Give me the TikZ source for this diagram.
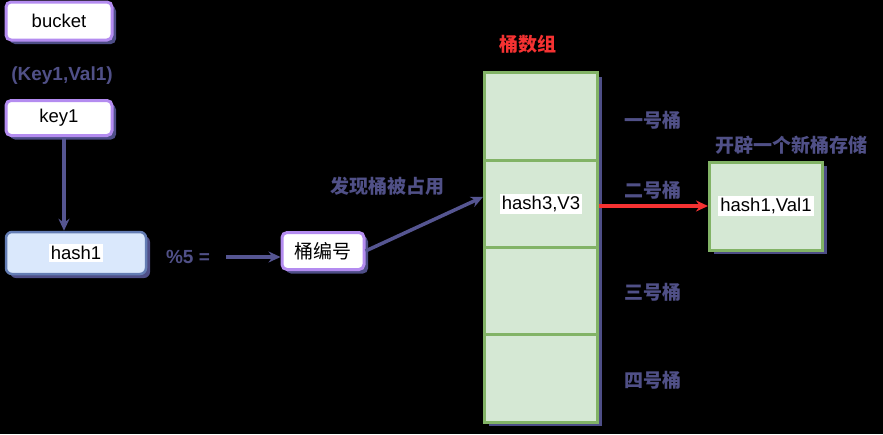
\documentclass[tikz,border=0pt]{standalone}
\usepackage{fontspec}
\setmainfont{Liberation Sans}
\newfontfamily\cjk{Noto Sans CJK SC}
\usetikzlibrary{shadows,arrows.meta}
\definecolor{shc}{RGB}{78,78,135}
\definecolor{labc}{RGB}{80,80,135}
\definecolor{linec}{RGB}{85,85,145}
\definecolor{purp}{RGB}{180,140,240}
\definecolor{bfill}{RGB}{218,232,252}
\definecolor{bdraw}{RGB}{100,125,180}
\definecolor{gfill}{RGB}{213,232,212}
\definecolor{gdraw}{RGB}{130,179,102}
\definecolor{redc}{RGB}{245,50,50}
\tikzset{
  shad/.style={drop shadow={shadow xshift=4pt,shadow yshift=-4pt,fill=shc,opacity=1}},
  pbox/.style={draw=purp,fill=white,line width=3pt,rounded corners=5pt,shad,font=\fontsize{18.5}{22}\selectfont},
  hbox/.style={draw=bdraw,fill=bfill,line width=2.5pt,rounded corners=6pt,shad},
  gbox/.style={draw=gdraw,fill=gfill,line width=3pt,shad},
  wtext/.style={fill=white,inner sep=2pt,font=\fontsize{18.5}{22}\selectfont},
  lab/.style={text=labc,font=\cjk\bfseries\fontsize{19}{22}\selectfont},
  conn/.style={draw=linec,line width=3.5pt,-{Stealth[length=12pt,width=11pt]}},
  redconn/.style={draw=redc,line width=3.5pt,-{Stealth[length=12pt,width=11pt]}}
}
\begin{document}
\begin{tikzpicture}[x=1pt,y=-1pt]
\fill[black] (0,0) rectangle (883,434);
\useasboundingbox (0,0) rectangle (883,434);
% left column
\node[pbox,minimum width=106,minimum height=38] (bucket) at (59,21) {bucket};
\node[lab,font=\fontsize{19}{22}\selectfont\bfseries] (kv) at (62,76) {(Key1,Val1)};
\node[pbox,minimum width=106,minimum height=35] (key1) at (59,118) {key1};
\node[hbox,minimum width=140,minimum height=42] (hash1) at (76,253) {};
\node[wtext] (h1t) at (hash1.center) {hash1};
\draw[conn] ([xshift=5pt]key1.south) -- ([xshift=5pt]key1.south |- hash1.north);
% modulo
\node[lab,font=\fontsize{19}{22}\selectfont\bfseries] (mod) at (188,257) {\%5 =};
\node[pbox,minimum width=82,minimum height=37,font=\cjk\fontsize{19}{22}\selectfont] (bnum) at (323,251) {桶编号};
\draw[conn] ([xshift=13pt]mod.east) -- (mod.east -| bnum.west);
% array
\node[lab,text=redc] (arrt) at (528,44) {桶数组};
\node[gbox,minimum width=113,minimum height=87.25] (c1) at (541,116.6) {};
\node[gbox,minimum width=113,minimum height=87.25] (c2) at (541,203.9) {};
\node[gbox,minimum width=113,minimum height=87.25] (c3) at (541,291.1) {};
\node[gbox,minimum width=113,minimum height=87.25] (c4) at (541,378.4) {};
\node[wtext] (h3t) at (c2.center) {hash3,V3};
\node[lab] (l1) at (653,120) {一号桶};
\node[lab] (l2) at (653,190) {二号桶};
\node[lab] (l3) at (653,292) {三号桶};
\node[lab] (l4) at (653,380) {四号桶};
% occupied
\node[lab] (occ) at (387,186) {发现桶被占用};
\draw[conn] (bnum.east) -- ([yshift=7pt]c2.west);
% new bucket
\node[lab] (newl) at (791,145) {开辟一个新桶存储};
\node[gbox,minimum width=113,minimum height=88] (nb) at (766,206) {};
\node[wtext] (nbt) at (nb.center) {hash1,Val1};
\draw[redconn] (c2.east |- nb.west) -- (nb.west);
\end{tikzpicture}
\end{document}
